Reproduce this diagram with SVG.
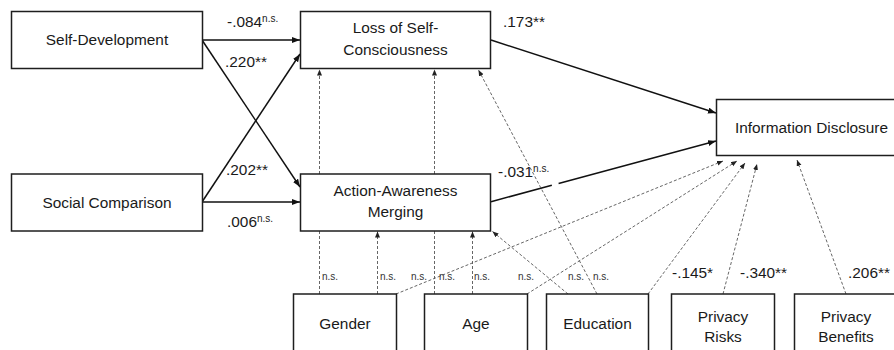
<svg xmlns="http://www.w3.org/2000/svg" width="894" height="350" viewBox="0 0 894 350">
<style>
.box{fill:#fff;stroke:#1e1e1e;stroke-width:1.5}
.t{font-family:"Liberation Sans",Arial,sans-serif;font-size:15.4px;fill:#1a1a1a;text-anchor:middle}
.c{font-family:"Liberation Sans",Arial,sans-serif;font-size:15.4px;fill:#1a1a1a}
.sup{font-size:10px}
.ns{font-family:"Liberation Sans",Arial,sans-serif;font-size:10px;fill:#333}
.solid{stroke:#111;stroke-width:1.5;fill:none;marker-end:url(#ah)}
.dash{stroke:#555;stroke-width:0.9;fill:none;stroke-dasharray:3 2;marker-end:url(#ad)}
</style>
<defs>
<marker id="ah" markerUnits="userSpaceOnUse" markerWidth="9" markerHeight="7" refX="8" refY="3" orient="auto"><path d="M0,0 L8,3 L0,6 z" fill="#111"/></marker>
<marker id="ad" markerUnits="userSpaceOnUse" markerWidth="7" markerHeight="6" refX="6" refY="2.5" orient="auto"><path d="M0,0 L6,2.5 L0,5 z" fill="#222"/></marker>
</defs>
<g id="connectors">
<line class="solid" x1="202" y1="40" x2="300" y2="40"/>
<line class="solid" x1="202" y1="40" x2="300" y2="187"/>
<line class="solid" x1="202" y1="202" x2="300" y2="54"/>
<line class="solid" x1="202" y1="202" x2="300" y2="202"/>
<line class="solid" x1="491" y1="40" x2="716" y2="113"/>
<line class="solid" x1="491" y1="201.7" x2="716" y2="141" stroke-dasharray="63 7 500"/>
<line class="dash" x1="319.5" y1="294" x2="319.5" y2="69.5"/>
<line class="dash" x1="434.5" y1="294" x2="434.5" y2="69.5"/>
<line class="dash" x1="377.5" y1="294" x2="377.5" y2="231.5"/>
<line class="dash" x1="472.5" y1="294" x2="472.5" y2="231.5"/>
<line class="dash" x1="568" y1="294" x2="492.5" y2="231.5"/>
<line class="dash" x1="597" y1="294" x2="478.5" y2="70"/>
<line class="dash" x1="396" y1="294" x2="723" y2="161"/>
<line class="dash" x1="527" y1="294" x2="737" y2="161"/>
<line class="dash" x1="648" y1="294" x2="745" y2="163"/>
<line class="dash" x1="723" y1="294" x2="757" y2="164"/>
<line class="dash" x1="846" y1="294" x2="797" y2="160"/>
</g>
<g id="labels">
<text class="c" x="227" y="27">-.084<tspan class="sup" dy="-5">n.s.</tspan></text>
<text class="c" x="225" y="66.5">.220**</text>
<text class="c" x="226" y="175">.202**</text>
<text class="c" x="227" y="227">.006<tspan class="sup" dy="-5">n.s.</tspan></text>
<text class="c" x="503" y="26.5">.173**</text>
<text class="c" x="498" y="176.5">-.031<tspan class="sup" dy="-5">n.s.</tspan></text>
<text class="c" x="672" y="278">-.145*</text>
<text class="c" x="740" y="278">-.340**</text>
<text class="c" x="848" y="278">.206**</text>
<text class="ns" x="322" y="280">n.s.</text>
<text class="ns" x="380" y="280">n.s.</text>
<text class="ns" x="411" y="280">n.s.</text>
<text class="ns" x="439" y="280">n.s.</text>
<text class="ns" x="474" y="280">n.s.</text>
<text class="ns" x="518" y="280">n.s.</text>
<text class="ns" x="568" y="280">n.s.</text>
<text class="ns" x="593" y="280">n.s.</text>
</g>
<g id="self-development"><rect class="box" x="11.5" y="11.5" width="191" height="57"/><text class="t" x="107" y="45">Self-Development</text></g>
<g id="social-comparison"><rect class="box" x="11.5" y="174" width="191" height="57"/><text class="t" x="107" y="207.5">Social Comparison</text></g>
<g id="loss-of-self-consciousness"><rect class="box" x="300.5" y="11.5" width="190" height="57"/><text class="t" x="395.5" y="32.5">Loss of Self-</text><text class="t" x="395.5" y="54.5">Consciousness</text></g>
<g id="action-awareness-merging"><rect class="box" x="300.5" y="174" width="190" height="57"/><text class="t" x="395.5" y="195.5">Action-Awareness</text><text class="t" x="395.5" y="217">Merging</text></g>
<g id="information-disclosure"><rect class="box" x="716.5" y="99.5" width="190" height="56"/><text class="t" x="811.5" y="133">Information Disclosure</text></g>
<g id="gender"><rect class="box" x="293.5" y="294" width="103" height="58"/><text class="t" x="345" y="329">Gender</text></g>
<g id="age"><rect class="box" x="424.5" y="294" width="103" height="58"/><text class="t" x="476" y="329">Age</text></g>
<g id="education"><rect class="box" x="546.5" y="294" width="102" height="58"/><text class="t" x="597.5" y="329">Education</text></g>
<g id="privacy-risks"><rect class="box" x="671.5" y="294" width="103" height="58"/><text class="t" x="723" y="321.5">Privacy</text><text class="t" x="723" y="342">Risks</text></g>
<g id="privacy-benefits"><rect class="box" x="794.5" y="294" width="103" height="58"/><text class="t" x="846" y="321.5">Privacy</text><text class="t" x="846" y="342">Benefits</text></g>
</svg>
